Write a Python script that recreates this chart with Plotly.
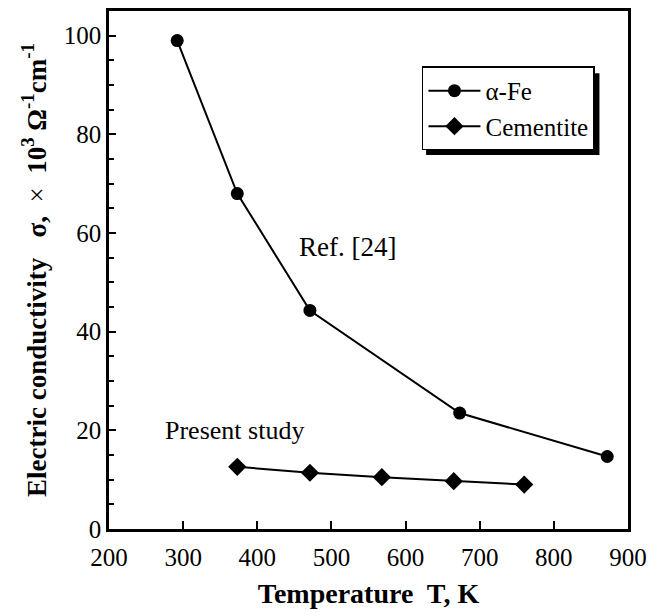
import plotly.graph_objects as go

# Data
fe_T = [292, 373, 471, 673, 872]
fe_sigma = [99.0, 68.0, 44.3, 23.5, 14.7]
cem_T = [373, 471, 568, 665, 760]
cem_sigma = [12.6, 11.4, 10.5, 9.7, 9.0]

x_ticks = [200, 300, 400, 500, 600, 700, 800, 900]
y_ticks = [0, 20, 40, 60, 80, 100]

FONT = "Liberation Serif"

fig = go.Figure()
fig.add_trace(go.Scatter(
    x=fe_T, y=fe_sigma, mode="lines+markers", name="α-Fe",
    line=dict(color="black", width=2),
    marker=dict(symbol="circle", size=13, color="black"),
))
fig.add_trace(go.Scatter(
    x=cem_T, y=cem_sigma, mode="lines+markers", name="Cementite",
    line=dict(color="black", width=2),
    marker=dict(symbol="diamond", size=14, color="black"),
))

fig.add_annotation(x=522, y=57.2, text="Ref. [24]", showarrow=False,
                   font=dict(family=FONT, size=27, color="black"))
fig.add_annotation(x=369, y=20, text="Present study", showarrow=False,
                   font=dict(family=FONT, size=26, color="black"))

# legend shadow
fig.add_shape(type="rect", xref="paper", yref="paper",
              x0=0.611, x1=0.945, y0=0.722, y1=0.880,
              fillcolor="black", line=dict(width=0), layer="below")

fig.update_layout(
    width=660, height=612,
    margin=dict(l=109, r=32, t=8, b=79),
    paper_bgcolor="white", plot_bgcolor="white",
    font=dict(family=FONT, size=25, color="black"),
    showlegend=True,
    legend=dict(x=0.603, y=0.893, xanchor="left", yanchor="top",
                bgcolor="white", bordercolor="black", borderwidth=1.5,
                font=dict(family=FONT, size=25, color="black"),
                itemwidth=52, tracegroupgap=0),
    xaxis=dict(
        range=[200, 900], tickvals=x_ticks, ticktext=[str(v) for v in x_ticks],
        showgrid=False, zeroline=False, showline=True, linecolor="black",
        linewidth=2.5, mirror=True, ticks="inside", ticklen=8, tickwidth=1.5,
        tickcolor="black", tickfont=dict(family=FONT, size=25),
        ticklabelstandoff=4,
        title=dict(text="<b>Temperature  T, K</b>", font=dict(family=FONT, size=28),
                   standoff=14),
    ),
    yaxis=dict(
        range=[0, 105], tickvals=y_ticks, ticktext=[str(v) for v in y_ticks],
        showgrid=False, zeroline=False, showline=True, linecolor="black",
        linewidth=2.5, mirror=True, ticks="inside", ticklen=7, tickwidth=1.5,
        tickcolor="black", tickfont=dict(family=FONT, size=25),
        minor=dict(dtick=5, ticks="inside", ticklen=5, tickwidth=1.5, tickcolor="black", showgrid=False),
        title=dict(text="<b>Electric conductivity   σ,</b>  ×  <b>10<sup>3</sup> Ω<sup>-1</sup>cm<sup>-1</sup></b>",
                   font=dict(family=FONT, size=27), standoff=10),
    ),
)

fig.write_html("out.html")
